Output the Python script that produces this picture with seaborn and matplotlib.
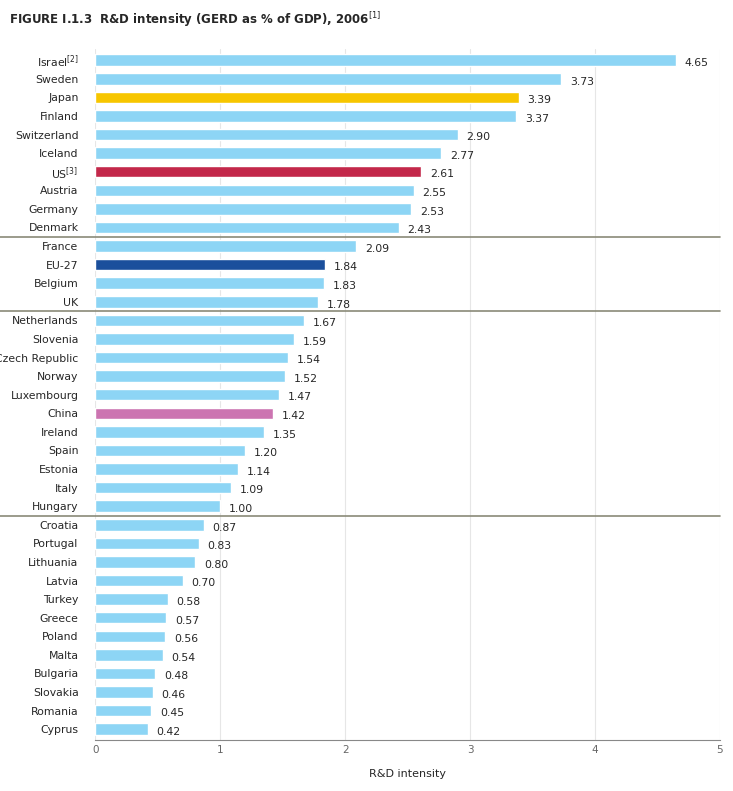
import matplotlib
matplotlib.use("Agg")
import matplotlib.pyplot as plt
import seaborn as sns
import pandas as pd

countries = ["Israel$^{[2]}$", "Sweden", "Japan", "Finland", "Switzerland", "Iceland", "US$^{[3]}$",
             "Austria", "Germany", "Denmark", "France", "EU-27", "Belgium", "UK",
             "Netherlands", "Slovenia", "Czech Republic", "Norway", "Luxembourg", "China",
             "Ireland", "Spain", "Estonia", "Italy", "Hungary", "Croatia", "Portugal",
             "Lithuania", "Latvia", "Turkey", "Greece", "Poland", "Malta", "Bulgaria",
             "Slovakia", "Romania", "Cyprus"]
values = [4.65, 3.73, 3.39, 3.37, 2.90, 2.77, 2.61, 2.55, 2.53, 2.43, 2.09, 1.84, 1.83, 1.78,
          1.67, 1.59, 1.54, 1.52, 1.47, 1.42, 1.35, 1.20, 1.14, 1.09, 1.00, 0.87, 0.83,
          0.80, 0.70, 0.58, 0.57, 0.56, 0.54, 0.48, 0.46, 0.45, 0.42]
highlight = {"Japan": "#f7c600", "US$^{[3]}$": "#c3284a", "EU-27": "#1b4f9c", "China": "#cc74b1"}
separators = [9.5, 13.5, 24.5]

df = pd.DataFrame({"country": countries, "value": values})
palette = [highlight.get(c, "#8dd5f5") for c in countries]

sns.set_style("white")
fig = plt.figure(figsize=(7.33, 7.91), dpi=100)
ax = fig.add_axes([0.130, 0.064, 0.852, 0.874])
sns.barplot(data=df, x="value", y="country", hue="country", palette=palette,
            legend=False, width=0.62, saturation=1, ax=ax, zorder=3)

ax.set_xlim(0, 5)
ax.set_ylim(len(countries) - 0.4, -0.6)
ax.set_xticks([0, 1, 2, 3, 4, 5])
ax.set_xticklabels(["0", "1", "2", "3", "4", "5"], color="#666666", fontsize=7.5)
ax.grid(axis="x", color="#e6e6e6", lw=0.8, zorder=0)
ax.tick_params(axis="both", length=0)
ax.tick_params(axis="y", labelsize=7.8, pad=12)
ax.set_xlabel("R&D intensity", fontsize=8, labelpad=10)
ax.set_ylabel("")
for s in ["top", "right", "left"]:
    ax.spines[s].set_visible(False)
ax.spines["bottom"].set_color("#888888")

for i, v in enumerate(values):
    ax.text(v + 0.07, i + 0.15, f"{v:.2f}", va="center", fontsize=7.8)

for y in separators:
    ax.plot([-0.76, 5], [y, y], color="#8a8a78", lw=1.2, clip_on=False, zorder=4)

fig.text(0.012, 0.975, "FIGURE I.1.3  R&D intensity (GERD as % of GDP), 2006$^{[1]}$", fontsize=8.5,
         fontweight="bold", va="center")

fig.savefig("out.png", dpi=100)
